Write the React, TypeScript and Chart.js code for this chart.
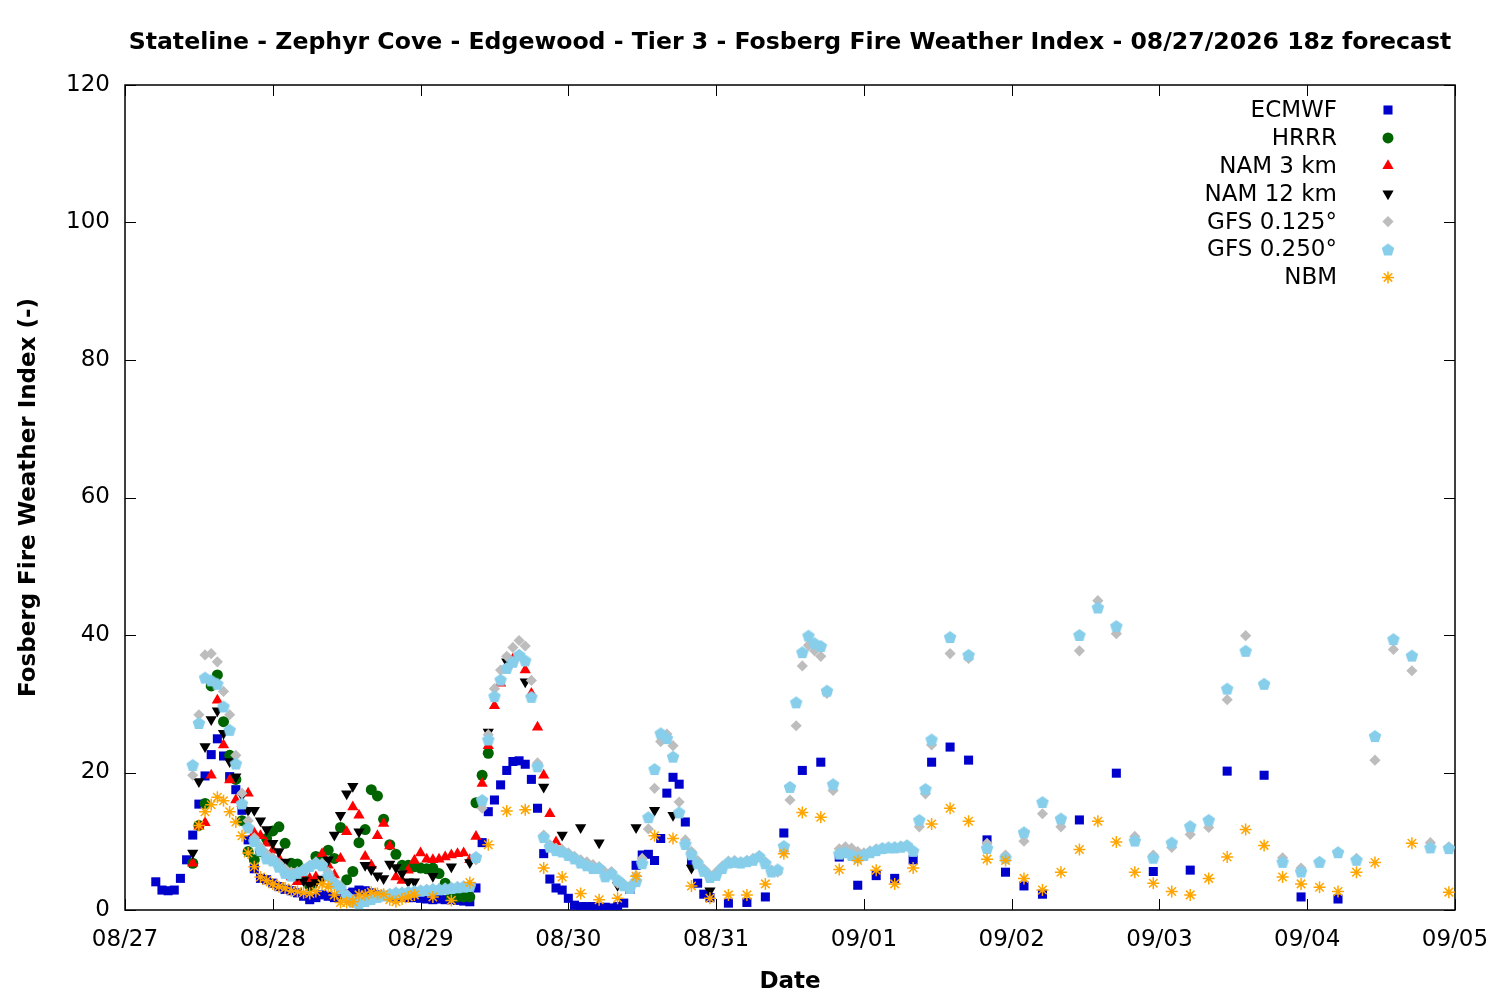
import React, { useEffect, useRef } from 'react';
import { Chart, registerables } from 'chart.js';
import { drawPoint } from 'chart.js/helpers';

Chart.register(...registerables);

const TITLE = 'Stateline - Zephyr Cove - Edgewood - Tier 3 - Fosberg Fire Weather Index - 08/27/2026 18z forecast';
const X_TITLE = 'Date';
const Y_TITLE = 'Fosberg Fire Weather Index (-)';
const dateLabels = ['08/27', '08/28', '08/29', '08/30', '08/31', '09/01', '09/02', '09/03', '09/04', '09/05'];
const seriesNames = ['ECMWF', 'HRRR', 'NAM 3 km', 'NAM 12 km', 'GFS 0.125°', 'GFS 0.250°', 'NBM'];

// hours since 08/27 00 local time
function seq(a: number, b: number, s: number): number[] {
  const r: number[] = [];
  for (let h = a; h <= b; h += s) r.push(h);
  return r;
}

const ecmwfHours = [...seq(5, 95, 1), ...seq(98, 149, 3), ...seq(155, 197, 6)];
const ecmwfValues = [
  4.1, 2.9, 2.8, 2.9, 4.6, 7.3, 10.9, 15.4, 19.5, 22.6,
  24.9, 22.4, 19.4, 17.5, 14.5, 10.2, 6.0, 4.6, 4.4, 3.9,
  3.4, 3.0, 2.8, 2.5, 2.0, 1.5, 1.8, 2.2, 2.0, 1.8,
  2.2, 2.4, 2.6, 2.9, 2.8, 2.5, 2.2, 2.0, 2.0, 1.9,
  1.9, 1.8, 1.8, 1.7, 1.6, 1.5, 1.6, 1.5, 1.5, 1.4,
  1.3, 1.2, 3.2, 9.8, 14.3, 16.0, 18.2, 20.3, 21.6, 21.7,
  21.2, 19.0, 14.8, 8.2, 4.5, 3.2, 2.9, 1.7, 0.7, 0.5,
  0.5, 0.5, 0.4, 0.4, 0.3, 0.5, 1.0, 3.0, 6.5, 8.0,
  8.1, 7.2, 10.4, 17.0, 19.3, 18.3, 12.8, 7.0, 3.9, 2.3,
  1.8,
  1.0, 1.1, 1.9, 11.2, 20.3, 21.5, 7.7, 3.6, 5.0, 4.6, 7.3, 21.5, 23.7, 21.8, 10.2, 5.5, 3.5, 2.3,
  13.1, 19.9, 5.6, 5.8, 20.2, 19.6, 1.9, 1.6,
];

const hrrrHours = seq(11, 59, 1);
const hrrrValues = [
  6.8, 12.3, 15.5, 32.6, 34.2, 27.4, 22.5, 19.0, 13.0, 8.5,
  7.3, 8.5, 10.4, 11.5, 12.1, 9.7, 6.8, 6.7, 4.5, 3.5,
  7.8, 7.0, 8.7, 7.5, 12.0, 4.4, 5.6, 9.8, 11.7, 17.5,
  16.6, 13.2, 9.5, 8.1, 6.5, 6.5, 6.3, 6.1, 6.0, 6.1,
  5.3, 3.9, 1.9, 1.9, 1.9, 1.9, 15.6, 19.6, 22.8,
];

const nam3Hours = seq(11, 71, 1);
const nam3Values = [
  6.8, 12.2, 12.7, 19.6, 30.5, 24.0, 18.9, 16.0, 15.5, 17.0,
  11.2, 10.8, 9.7, 8.7, 7.5, 6.0, 4.8, 4.1, 4.4, 4.6,
  4.8, 8.2, 6.5, 5.1, 7.5, 11.4, 15.0, 13.8, 7.8, 6.5,
  10.8, 12.6, 9.3, 4.8, 4.3, 5.8, 7.2, 8.3, 7.4, 7.3,
  7.4, 7.7, 8.0, 8.2, 8.3, 7.3, 10.7, 18.4, 23.9, 29.7,
  33.0, 35.5, 36.5, 37.0, 34.9, 31.5, 26.6, 19.6, 14.0, 9.9,
  8.6,
];

const nam12Hours = [...seq(11, 47, 1), ...seq(50, 95, 3)];
const nam12Values = [
  8.3, 18.7, 23.8, 27.7, 29.0, 25.7, 21.6, 19.4, 16.7, 14.5,
  14.5, 13.0, 11.7, 9.7, 8.5, 7.0, 5.5, 5.0, 4.3, 3.6,
  4.0, 4.5, 7.3, 10.9, 13.8, 16.9, 18.0, 11.4, 6.5, 5.9,
  5.0, 4.6, 6.7, 6.2, 5.3, 4.1, 4.1,
  4.9, 6.3, 6.9, 25.9, 36.1, 33.2, 17.9, 10.9, 12.0, 9.8, 3.6, 12.0, 14.5, 13.8, 6.1, 2.8,
];

const gfsHours = [...seq(11, 131, 1), ...seq(134, 215, 3)];
const gfs0125Values = [
  19.6, 28.4, 37.1, 37.3, 36.1, 31.8, 28.4, 22.5, 17.0, 13.0,
  10.5, 9.2, 8.2, 7.6, 6.8, 6.0, 5.5, 5.6, 6.0, 6.5,
  7.0, 6.8, 5.5, 4.2, 3.5, 2.3, 1.5, 1.2, 1.5, 1.8,
  2.0, 2.2, 2.4, 2.6, 2.6, 2.7, 2.8, 2.9, 3.0, 3.1,
  3.1, 3.2, 3.3, 3.4, 3.5, 3.6, 7.3, 14.8, 25.5, 32.2,
  34.9, 36.9, 38.2, 39.2, 38.4, 33.4, 21.4, 10.9, 9.5, 9.0,
  8.8, 8.3, 7.8, 7.3, 7.0, 6.6, 6.3, 5.5, 5.6, 3.9,
  3.8, 3.5, 5.0, 7.5, 11.8, 17.7, 24.5, 25.6, 23.9, 15.7,
  10.2, 8.5, 7.2, 6.0, 5.1, 5.5, 6.4, 7.1, 7.2, 7.0,
  7.2, 7.5, 7.9, 7.0, 5.8, 5.5, 8.5, 16.0, 26.8, 35.5,
  38.5, 37.7, 36.9, 31.5, 17.4, 8.9, 9.2, 9.0, 8.5, 8.3,
  8.6, 8.9, 9.0, 9.1, 9.2, 9.3, 9.4, 8.6, 12.1, 16.9,
  24.0,
  37.3, 36.6, 9.7, 8.0, 10.0, 14.0, 12.1, 37.7, 45.0, 40.2,
  10.7, 8.0, 9.1, 11.0, 12.0, 30.6, 39.9, 32.8, 7.6, 6.1,
  7.0, 8.4, 7.5, 21.8, 37.9, 34.8, 9.8, 9.2,
];
const gfs0250Values = [
  21.1, 27.2, 33.8, 33.4, 32.9, 29.6, 26.2, 21.3, 15.5, 12.0,
  10.0, 8.7, 7.5, 7.2, 6.3, 5.4, 5.0, 5.4, 5.8, 6.4,
  6.8, 6.5, 5.0, 3.9, 3.2, 2.0, 1.2, 1.0, 1.3, 1.6,
  1.9, 2.1, 2.3, 2.5, 2.5, 2.6, 2.7, 2.8, 2.9, 3.0,
  3.0, 3.1, 3.2, 3.3, 3.4, 3.5, 7.7, 16.0, 24.8, 31.1,
  33.5, 35.2, 36.1, 37.1, 36.3, 31.0, 20.9, 10.6, 9.2, 8.7,
  8.5, 8.0, 7.5, 6.9, 6.5, 6.1, 6.1, 4.9, 5.3, 4.4,
  3.6, 3.2, 4.2, 6.8, 13.5, 20.5, 25.7, 25.0, 22.3, 14.2,
  9.6, 8.1, 6.8, 5.7, 4.8, 5.1, 6.1, 6.9, 7.0, 6.9,
  7.1, 7.3, 7.8, 6.8, 5.6, 5.9, 9.3, 17.9, 30.2, 37.5,
  39.9, 38.8, 38.4, 31.9, 18.3, 8.2, 8.4, 8.0, 7.7, 8.0,
  8.4, 8.7, 9.0, 9.1, 9.1, 9.2, 9.4, 8.6, 13.1, 17.6,
  24.8,
  39.7, 37.1, 9.0, 7.6, 11.3, 15.7, 13.3, 40.0, 44.0, 41.3,
  10.1, 7.6, 9.8, 12.2, 13.1, 32.2, 37.7, 32.9, 7.0, 5.6,
  7.0, 8.4, 7.3, 25.3, 39.4, 37.0, 9.1, 9.0,
];

const nbmHours = [...seq(12, 47, 1), ...seq(50, 203, 3), 209, 215];
const nbmValues = [
  12.3, 14.3, 15.3, 16.4, 15.9, 14.3, 12.8, 10.8, 8.3, 6.3,
  4.8, 4.3, 3.8, 3.4, 3.2, 2.8, 2.7, 2.5, 2.4, 2.7,
  3.8, 3.4, 2.2, 1.1, 1.1, 1.2, 2.2, 2.2, 2.6, 2.4,
  2.3, 1.5, 1.2, 1.6, 1.9, 2.2,
  1.9, 1.4, 4.0, 9.5, 14.4, 14.6, 6.1, 4.8, 2.4, 1.5,
  1.7, 4.9, 10.8, 10.4, 3.5, 1.7, 2.2, 2.2, 3.8, 8.2,
  14.2, 13.5, 5.9, 7.2, 5.8, 3.8, 6.1, 12.5, 14.8, 12.9,
  7.4, 7.2, 4.6, 2.9, 5.5, 8.8, 12.9, 9.9, 5.5, 3.9,
  2.7, 2.2, 4.6, 7.7, 11.7, 9.4, 4.8, 3.8, 3.3, 2.7,
  5.5, 6.9,
  9.7, 2.6,
];

const FONT = 'DejaVu Sans';

function makePentagon(color: string, r: number): HTMLCanvasElement {
  const size = Math.ceil(r * 2 + 2);
  const c = document.createElement('canvas');
  c.width = size;
  c.height = size;
  const g = c.getContext('2d')!;
  g.fillStyle = color;
  g.beginPath();
  for (let i = 0; i < 5; i++) {
    const a = -Math.PI / 2 + (i * 2 * Math.PI) / 5;
    const px = size / 2 + r * Math.cos(a);
    const py = size / 2 + 0.6 + r * Math.sin(a);
    if (i === 0) g.moveTo(px, py);
    else g.lineTo(px, py);
  }
  g.closePath();
  g.fill();
  return c;
}

function pts(hours: number[], values: number[]) {
  return values.map((v, i) => ({ x: hours[i], y: v }));
}

export default function App() {
  const ref = useRef<HTMLCanvasElement | null>(null);

  useEffect(() => {
    if (!ref.current) return;
    const pentagon = makePentagon('#87ceeb', 6.6);

    const styles: any[] = [
      { pointStyle: 'rect', radius: 6.4, color: '#0000cc', bw: 0, rotation: 0 },
      { pointStyle: 'circle', radius: 5.5, color: '#006400', bw: 0, rotation: 0 },
      { pointStyle: 'triangle', radius: 6.5, color: '#ff0000', bw: 0, rotation: 0 },
      { pointStyle: 'triangle', radius: 6.5, color: '#000000', bw: 0, rotation: 180 },
      { pointStyle: 'rectRot', radius: 5.6, color: '#bdbdbd', bw: 0, rotation: 0 },
      { pointStyle: pentagon, radius: 6.6, color: '#87ceeb', bw: 0, rotation: 0 },
      { pointStyle: 'star', radius: 6, color: '#ffa500', bw: 1.5, rotation: 0 },
    ];
    const seriesData = [
      pts(ecmwfHours, ecmwfValues),
      pts(hrrrHours, hrrrValues),
      pts(nam3Hours, nam3Values),
      pts(nam12Hours, nam12Values),
      pts(gfsHours, gfs0125Values),
      pts(gfsHours, gfs0250Values),
      pts(nbmHours, nbmValues),
    ];

    const datasets = seriesNames.map((name, i) => ({
      label: name,
      data: seriesData[i],
      showLine: false,
      order: seriesNames.length - i,
      pointStyle: styles[i].pointStyle,
      pointRadius: styles[i].radius,
      pointRotation: styles[i].rotation,
      pointBackgroundColor: styles[i].color,
      pointBorderColor: styles[i].color,
      pointBorderWidth: styles[i].bw,
      backgroundColor: styles[i].color,
      borderColor: styles[i].color,
    }));

    const framePlugin = {
      id: 'gnuframe',
      beforeDatasetsDraw(chart: any) {
        const { ctx, chartArea: a, scales } = chart;
        const TL = 11;
        ctx.save();
        ctx.strokeStyle = '#000';
        ctx.lineWidth = 1;
        ctx.beginPath();
        for (const t of scales.x.ticks) {
          const px = Math.round(scales.x.getPixelForValue(t.value)) + 0.5;
          ctx.moveTo(px, a.bottom);
          ctx.lineTo(px, a.bottom - TL);
          ctx.moveTo(px, a.top);
          ctx.lineTo(px, a.top + TL);
        }
        for (const t of scales.y.ticks) {
          const py = Math.round(scales.y.getPixelForValue(t.value)) + 0.5;
          ctx.moveTo(a.left, py);
          ctx.lineTo(a.left + TL, py);
          ctx.moveTo(a.right, py);
          ctx.lineTo(a.right - TL, py);
        }
        ctx.stroke();
        ctx.lineWidth = 1.5;
        ctx.strokeRect(a.left, a.top, a.right - a.left, a.bottom - a.top);
        ctx.restore();
      },
      afterDraw(chart: any) {
        const { ctx, chartArea: a } = chart;
        ctx.save();
        // title
        ctx.fillStyle = '#000';
        ctx.font = `bold 23.6px "${FONT}"`;
        ctx.textAlign = 'center';
        ctx.textBaseline = 'middle';
        ctx.fillText(TITLE, (a.left + a.right) / 2, 43);
        // legend
        ctx.font = `23px "${FONT}"`;
        ctx.textAlign = 'right';
        const textRight = 1337;
        const markerX = 1388;
        const y0 = 110;
        const dy = 27.9;
        seriesNames.forEach((name, i) => {
          const y = y0 + i * dy;
          ctx.fillStyle = '#000';
          ctx.fillText(name, textRight, y + 1);
          const s = styles[i];
          ctx.fillStyle = s.color;
          ctx.strokeStyle = s.color;
          ctx.lineWidth = s.bw;
          drawPoint(ctx, { pointStyle: s.pointStyle, rotation: s.rotation, radius: s.radius, borderWidth: s.bw } as any, markerX, y);
        });
        ctx.restore();
      },
    };

    const tickFont = { family: FONT, size: 23 };
    const titleFont = { family: FONT, size: 23, weight: 'bold' as const };

    const chart = new Chart(ref.current, {
      type: 'scatter',
      data: { datasets: datasets as any },
      options: {
        animation: false,
        responsive: false,
        devicePixelRatio: 1,
        layout: { padding: { top: 85, right: 45, left: 0, bottom: 0 } },
        plugins: {
          legend: { display: false },
          tooltip: { enabled: false },
          title: { display: false },
        },
        scales: {
          x: {
            type: 'linear',
            min: 0,
            max: 216,
            offset: false,
            afterFit: (s: any) => {
              s.height = 90;
              s.paddingLeft = 0;
              s.paddingRight = 0;
            },
            grid: { display: false, drawTicks: false, tickLength: 0 },
            border: { display: false },
            ticks: {
              stepSize: 24,
              autoSkip: false,
              maxRotation: 0,
              padding: 16,
              color: '#000',
              font: tickFont,
              callback: (v: any) => dateLabels[Math.round(Number(v) / 24)] ?? '',
            },
            title: { display: true, text: X_TITLE, color: '#000', font: titleFont, padding: { top: 0, bottom: 4 } },
          },
          y: {
            type: 'linear',
            min: 0,
            max: 120,
            afterFit: (s: any) => {
              s.width = 125;
              s.paddingTop = 0;
              s.paddingBottom = 0;
            },
            grid: { display: false, drawTicks: false, tickLength: 0 },
            border: { display: false },
            ticks: { stepSize: 20, padding: 15, color: '#000', font: tickFont },
            title: { display: true, text: Y_TITLE, color: '#000', font: titleFont, padding: { top: 15, bottom: 0 } },
          },
        },
      },
      plugins: [framePlugin],
    });
    return () => chart.destroy();
  }, []);

  return (
    <div style={{ position: 'absolute', left: 0, top: 0, width: 1500, height: 1000, background: '#fff' }}>
      <canvas ref={ref} width={1500} height={1000} style={{ display: 'block', width: 1500, height: 1000 }} />
    </div>
  );
}
